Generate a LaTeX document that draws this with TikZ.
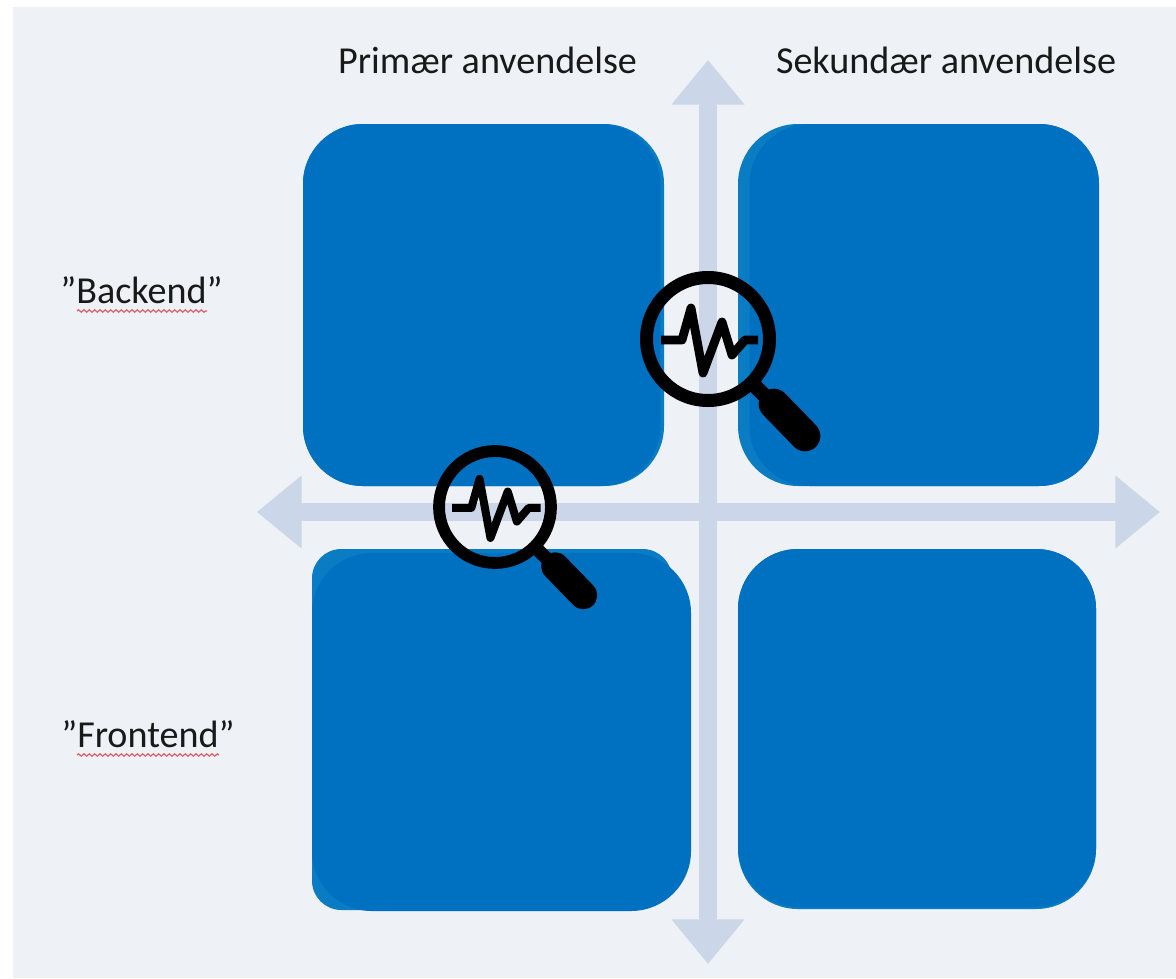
\documentclass[tikz,border=0pt]{standalone}
\usepackage{fontspec}
\setmainfont{Carlito}
\usetikzlibrary{arrows.meta,decorations.pathmorphing}
\definecolor{panelgray}{HTML}{EEF1F5}
\definecolor{axisblue}{HTML}{CBD6E8}
\definecolor{tileblue}{HTML}{0070C0}
\definecolor{tileedge}{HTML}{0A7CC4}
\definecolor{wavered}{HTML}{E0606A}
\tikzset{
  tile/.style={fill=tileblue,inner sep=0pt,outer sep=0pt,anchor=north west,rounded corners=45pt},
  tilerim/.style={tile,fill=tileedge},
  axisline/.style={axisblue,line width=13.5pt,{Triangle[width=52.5pt,length=33.5pt]}-{Triangle[width=52.5pt,length=33.5pt]},shorten <=-0.1pt},
  heading/.style={font=\fontsize{28.6pt}{32pt}\selectfont,text=black!90,inner sep=0pt},
  wavy/.style={wavered,line width=0.9pt,decorate,decoration={snake,amplitude=0.9pt,segment length=4pt}}
}
\newcommand{\lensmark}[3]{
  \begin{scope}[shift={(#1,#2)},scale=#3]
    \draw [black,line width=#3*9.75pt] (0,0) circle (61.5);
    \draw [black,line width=#3*6.6pt,line join=round,line cap=butt] (-47,1) -- (-26,1) -- (-17,-31) -- (-5,34) -- (14,-17) -- (24,16) -- (37,1) -- (50,1);
    \draw [black,line width=#3*11pt] (47,47) -- (70,70);
    \draw [black,line width=#3*23pt,line cap=round] (66,65) -- (97,97);
  \end{scope}
}
\begin{document}
\begin{tikzpicture}[x=0.75pt,y=-0.75pt]
  \useasboundingbox (0,0) rectangle (1176,978);
  \fill [white] (0,0) rectangle (1176,978);
  \fill [panelgray] (13,7) rectangle (1176,978);
  \coordinate (axistop) at (708,60);
  \coordinate (axisbottom) at (708,964);
  \coordinate (axisleft) at (257,512);
  \coordinate (axisright) at (1160,512);
  \draw [axisline] (axistop) -- (axisbottom);
  \draw [axisline] (axisleft) -- (axisright);
  \node [tilerim,minimum width=270.75pt,minimum height=271.5pt] (backprimrim) at (303,124) {};
  \node [tile,minimum width=268pt,minimum height=271.5pt] (backprim) at (303,124) {};
  \node [tilerim,minimum width=270.75pt,minimum height=271.5pt] (backsecrim) at (738,124) {};
  \node [tile,minimum width=262pt,minimum height=271.5pt] (backsec) at (749.5,124) {};
  \node [tilerim,minimum width=270pt,minimum height=120pt,rounded corners=22pt] (frontprimrim) at (312,549) {};
  \node [tilerim,minimum width=120pt,minimum height=120pt,rounded corners=22pt] (frontprimfoot) at (312,750) {};
  \node [tile,minimum width=284.25pt,minimum height=268.5pt] (frontprim) at (312,553) {};
  \node [tilerim,minimum width=268.5pt,minimum height=270pt] (frontsecrim) at (738,549) {};
  \node [tile,minimum width=268.5pt,minimum height=268.5pt] (frontsec) at (738,549) {};
  \node [heading] (primlabel) at (487.5,60) {Primær anvendelse};
  \node [heading] (seclabel) at (946,60) {Sekundær anvendelse};
  \node [heading] (backlabel) at (141.5,290) {”Backend”};
  \node [heading] (frontlabel) at (148,734) {”Frontend”};
  \coordinate (backwavea) at (77,311);
  \coordinate (backwaveb) at (207,311);
  \coordinate (frontwavea) at (77,755);
  \coordinate (frontwaveb) at (219,755);
  \draw [wavy] (backwavea) -- (backwaveb);
  \draw [wavy] (frontwavea) -- (frontwaveb);
  \lensmark{708}{339}{1}
  \lensmark{495}{507}{0.91}
\end{tikzpicture}
\end{document}
